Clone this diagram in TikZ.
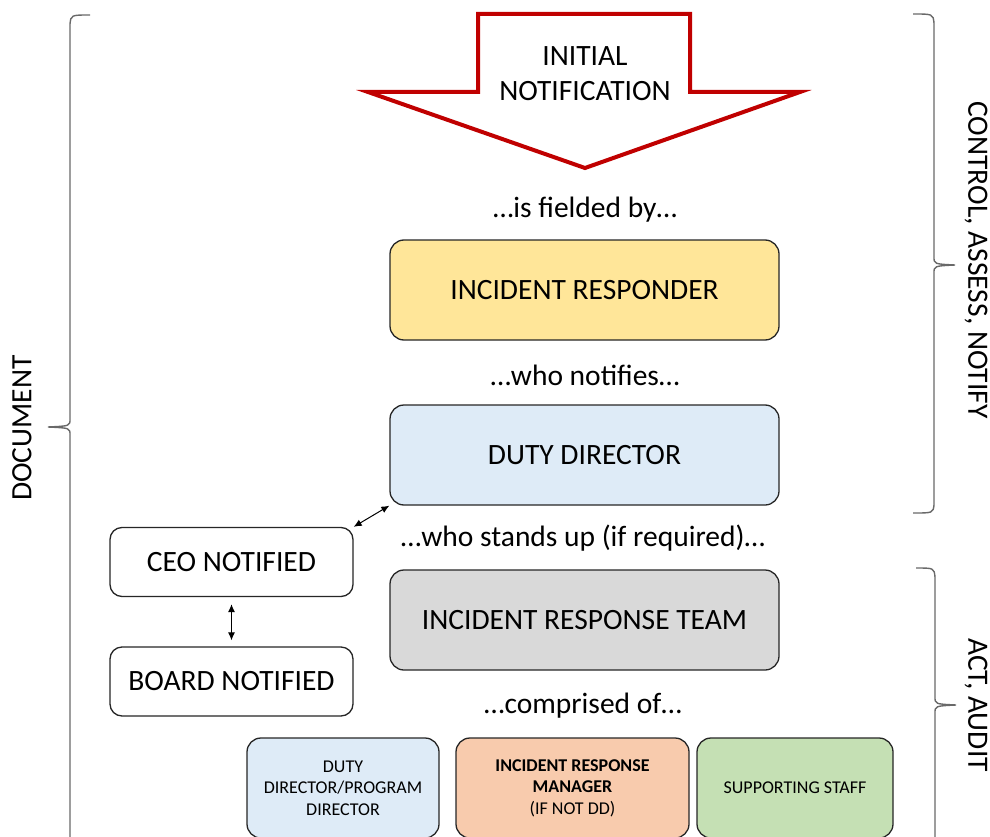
\documentclass[tikz,border=0pt]{standalone}
\usepackage{fontspec}
\setmainfont{Carlito}
\usetikzlibrary{arrows.meta}

\definecolor{arrowred}{RGB}{192,0,0}
\definecolor{respyellow}{RGB}{255,230,153}
\definecolor{dirblue}{RGB}{222,235,247}
\definecolor{teamgray}{RGB}{217,217,217}
\definecolor{mgrorange}{RGB}{248,203,173}
\definecolor{staffgreen}{RGB}{197,224,180}
\definecolor{bracegray}{RGB}{105,105,105}

\begin{document}
\begin{tikzpicture}[%
		x=1pt, y=-1pt,
		>={Latex[length=8pt,width=7pt]},
		bigfont/.style={font=\fontsize{29.5}{35}\selectfont},
		smallfont/.style={font=\fontsize{18}{21.5}\selectfont},
		rolebox/.style={draw=black!85, line width=1.3pt, rounded corners=14pt, minimum width=389pt, minimum height=100pt, inner sep=0pt, bigfont},
		notebox/.style={draw=black!85, line width=1.3pt, rounded corners=12pt, minimum width=243pt, minimum height=69pt, inner sep=0pt, fill=white, bigfont},
		memberbox/.style={draw=black!85, line width=1.3pt, rounded corners=14pt, minimum height=100pt, inner sep=0pt, align=center, smallfont},
		linktext/.style={bigfont, inner sep=0pt},
		bracelabel/.style={bigfont, inner sep=0pt},
		brace/.style={draw=bracegray, line width=1.4pt},
		link/.style={<->, line width=1pt}
		]

		\useasboundingbox (0,0) rectangle (990,837);
		\clip (0,0) rectangle (990,837);

		%% initial notification arrow
		\draw[draw=arrowred, line width=4pt, fill=white] (478,14) -- (690,14) -- (690,92) -- (800,92) -- (585,168) -- (368,92) -- (478,92) -- cycle;
		\node[bigfont, align=center] (initial) at (585,74) {INITIAL\\NOTIFICATION};

		%% chain of roles
		\node[linktext] (fielded) at (585,210) {…is fielded by…};
		\node[rolebox, fill=respyellow] (responder) at (584.5,290) {INCIDENT RESPONDER};
		\node[linktext] (notifies) at (585,375) {…who notifies…};
		\node[rolebox, fill=dirblue] (director) at (584.5,455) {DUTY DIRECTOR};
		\node[linktext] (standsup) at (583,538) {…who stands up (if required)…};
		\node[rolebox, fill=teamgray] (team) at (584.5,620) {INCIDENT RESPONSE TEAM};
		\node[linktext] (comprised) at (583,706) {…comprised of…};

		%% escalation
		\node[notebox] (ceo) at (231.5,562) {CEO NOTIFIED};
		\node[notebox] (board) at (231.5,681.5) {BOARD NOTIFIED};
		\draw[link] (ceo.north east) -- (director.south west);
		\draw[link, shorten <=7pt, shorten >=6pt] (ceo) -- (board);

		%% team members
		\node[memberbox, minimum width=192pt, fill=dirblue] (dutyprog) at (343,788) {DUTY\\DIRECTOR/PROGRAM\\DIRECTOR};
		\node[memberbox, minimum width=233pt, fill=mgrorange] (manager) at (572.5,788) {\textbf{INCIDENT RESPONSE}\\\textbf{MANAGER}\\(IF NOT DD)};
		\node[memberbox, minimum width=196pt, fill=staffgreen] (staff) at (795,788) {SUPPORTING STAFF};

		%% braces
		\draw[brace] (90,15) .. controls (71,15) .. (70,24) -- (70,419) .. controls (70,426) .. (48,427) .. controls (70,428) .. (70,435) -- (70,850);
		\draw[brace] (913,14) .. controls (933,14) .. (934,23) -- (934,257) .. controls (934,264) .. (955,265) .. controls (934,266) .. (934,273) -- (934,505) .. controls (933,513) .. (913,513);
		\draw[brace] (916,568) .. controls (934,568) .. (935,577) -- (935,697) .. controls (935,704) .. (956,705) .. controls (935,706) .. (935,713) -- (935,850);

		\node[bracelabel, rotate=90] (document) at (22,428) {DOCUMENT};
		\node[bracelabel, rotate=-90] (control) at (976,260) {CONTROL, ASSESS, NOTIFY};
		\node[bracelabel, rotate=-90] (act) at (976,705) {ACT, AUDIT};
	\end{tikzpicture}
\end{document}
